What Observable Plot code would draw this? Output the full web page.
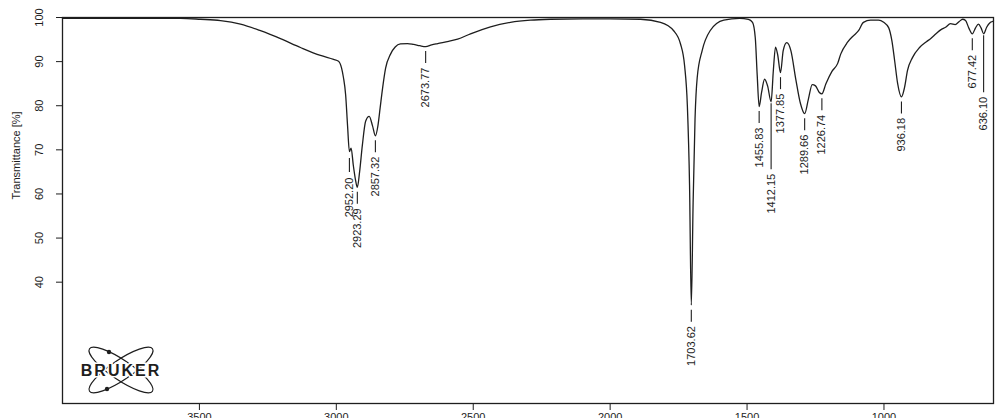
<!DOCTYPE html>
<html>
<head>
<meta charset="utf-8">
<script src="https://cdn.jsdelivr.net/npm/d3@7"></script>
<script src="https://cdn.jsdelivr.net/npm/@observablehq/plot@0.6"></script>
<style>
  html, body { margin: 0; padding: 0; background: #fff; overflow: hidden; }
  #chart svg { display: block; }
</style>
</head>
<body>
<div id="chart"></div>
<script>
// Spectrum trace: wavenumber (cm-1) and transmittance (%)
const wavenumber = [
  4000, 3800, 3650, 3569, 3496, 3423, 3350, 3277, 3204, 3131, 3058, 3010, 2992, 2981, 2974, 2966, 2959,
  2952.2, 2946, 2938, 2930, 2923.29, 2915, 2905, 2893, 2880, 2868, 2857.32, 2848, 2840, 2831, 2820, 2802,
  2785, 2766, 2740, 2718, 2695, 2673.77, 2652, 2630, 2590, 2557, 2510, 2437, 2364, 2291, 2218, 2100, 2000,
  1889, 1816, 1768, 1743, 1728, 1718, 1710, 1703.62, 1697, 1690, 1682, 1664, 1635, 1585, 1527, 1495, 1480,
  1470, 1463, 1455.83, 1447, 1436, 1425, 1412.15, 1404, 1396, 1388, 1377.85, 1368, 1355, 1340, 1322, 1305,
  1289.66, 1276, 1262, 1250, 1236, 1226.74, 1212, 1190, 1169, 1158, 1133, 1111, 1093, 1075, 1049, 1020,
  1001, 983, 971, 961, 950, 936.18, 925, 914, 896, 870, 845, 830, 810, 793, 775, 757, 740, 725, 713, 702,
  690, 677.42, 666, 655, 645, 636.1, 625, 611, 600
];
const transmittance = [
  99.8, 99.8, 99.8, 99.8, 99.6, 99.3, 98.5, 97.0, 95.2, 93.2, 91.4, 90.5, 90.1, 88.6, 86.4, 82.5, 75.5,
  69.6, 70.4, 66.5, 63.2, 61.5, 65, 71, 76.5, 77.6, 75.5, 73.2, 75.5, 79.5, 84, 88.5, 91.7,
  93.3, 94, 94.1, 93.9, 93.6, 93.4, 93.8, 94.1, 94.6, 95.1, 96.3, 97.9, 98.9, 99.4, 99.6, 99.7, 99.7,
  99.6, 98.9, 97, 94, 89, 80, 62, 34.8, 58, 77, 86.4, 92.5, 97, 99.4, 99.8, 99.6, 98.9,
  95.4, 87, 79.8, 83, 86, 84.5, 80.9, 88, 93.3, 91.5, 87.5, 92.5, 94.3, 92.5, 86, 80.5,
  78.2, 81.5, 84.8, 84.5, 83, 82.7, 85, 87.8, 89.6, 91.7, 94.4, 95.9, 97, 98.9, 99.4, 99.4,
  98.9, 97.7, 94.7, 90.2, 85, 82, 84.1, 88, 90.9, 93.2, 94.5, 95.2, 96.3, 97.2, 97.8, 98.6, 98.4, 99.1, 99.6, 99.3,
  97.6, 96.3, 97.6, 98.5, 97.6, 96.3, 97.8, 98.9, 99.2
];

// Peak picks
const peakWavenumber = [2952.2, 2923.29, 2857.32, 2673.77, 1703.62, 1455.83, 1412.15, 1377.85, 1289.66, 1226.74, 936.18, 677.42, 636.1];
const peakTransmittance = [69.6, 61.5, 73.2, 93.4, 34.8, 79.8, 80.9, 87.5, 78.2, 82.7, 82, 96.3, 96.3];
const peakLabel = ["2952.20", "2923.29", "2857.32", "2673.77", "1703.62", "1455.83", "1412.15", "1377.85", "1289.66", "1226.74", "936.18", "677.42", "636.10"];

// Axis ticks
const xTicks = [3500, 3000, 2500, 2000, 1500, 1000];
const yTicks = [40, 50, 60, 70, 80, 90, 100];
const yTitle = "Transmittance [%]";

const spectrum = wavenumber.map((w, i) => ({w, t: transmittance[i]}));
const peaks = peakWavenumber.map((w, i) => ({w, t: peakTransmittance[i], label: peakLabel[i]}));

// leader styling (pixels): [start, end, textStart]
const leaderStyle = {
  "2952.20": [7, 21, 26],
  "1412.15": [2, 68, 72],
  "636.10": [2, 59, 63]
};
const defaultLeader = [5, 17, 21];

const ink = "#1e1e1e";
const leaderMarks = [];
const groups = {};
for (const p of peaks) {
  const s = leaderStyle[p.label] || defaultLeader;
  const key = s.join(",");
  (groups[key] = groups[key] || {s, data: []}).data.push(p);
}
for (const key in groups) {
  const {s, data} = groups[key];
  leaderMarks.push(Plot.ruleX(data, {x: "w", y1: "t", y2: "t", insetTop: s[0], insetBottom: -s[1], stroke: ink, strokeWidth: 1.1}));
  leaderMarks.push(Plot.text(data, {x: "w", y: "t", text: "label", rotate: -90, textAnchor: "end", lineAnchor: "middle", dy: s[2], fontSize: 11, fill: ink}));
}

const plot = Plot.plot({
  width: 995,
  height: 430,
  marginLeft: 62,
  marginRight: 2,
  marginTop: 17,
  marginBottom: 27,
  style: {fontFamily: "'Liberation Sans', Arial, sans-serif", fontSize: "10.5px", color: ink, background: "#fff"},
  x: {domain: [4000, 600], label: null},
  y: {domain: [12.5, 100], label: null},
  marks: [
    Plot.axisX({ticks: xTicks, tickSize: 7, tickPadding: 3, tickFormat: d => String(d), label: null, stroke: ink, fontSize: 11}),
    Plot.axisY({ticks: yTicks, tickSize: 6, tickFormat: () => "", label: null, stroke: ink}),
    Plot.axisY({ticks: yTicks, tickSize: 0, tickPadding: 4, tickRotate: -90, dx: -16, tickFormat: d => String(d), label: null, fontSize: 11, fill: ink}),
    Plot.text([yTitle], {frameAnchor: "top-left", text: d => d, rotate: -90, dx: -50, dy: 138, fontSize: 11, fill: ink, textAnchor: "middle"}),
    Plot.frame({stroke: ink, strokeWidth: 1.3}),
    Plot.line(spectrum, {x: "w", y: "t", stroke: ink, strokeWidth: 1.3, curve: "monotone-x"}),
    ...leaderMarks
  ]
});
document.getElementById("chart").append(plot);

// Bruker logo decoration
const svg = d3.select(plot);
const logo = svg.append("g").attr("transform", "translate(121,370)");
[34, -34].forEach(a => {
  logo.append("ellipse").attr("rx", 38).attr("ry", 10).attr("fill", "none")
    .attr("stroke", ink).attr("stroke-width", 1.2).attr("transform", `rotate(${a})`);
});
[[-12, -18], [-14, 19]].forEach(([cx, cy]) => {
  logo.append("circle").attr("cx", cx).attr("cy", cy).attr("r", 2.2).attr("fill", ink);
});
logo.append("text").text("BRUKER").attr("text-anchor", "middle").attr("y", 5.5)
  .attr("font-family", "'Liberation Sans', Arial, sans-serif").attr("font-weight", "bold")
  .attr("font-size", 16).attr("letter-spacing", 2).attr("fill", ink)
  .attr("stroke", "#fff").attr("stroke-width", 3).attr("paint-order", "stroke");
</script>
</body>
</html>
